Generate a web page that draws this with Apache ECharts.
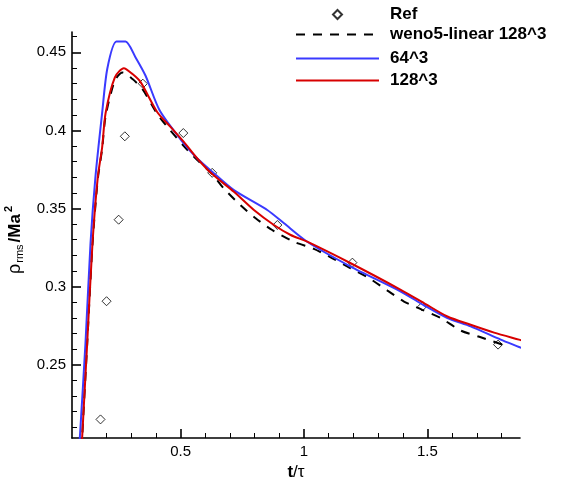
<!DOCTYPE html>
<html><head><meta charset="utf-8">
<script src="https://cdn.jsdelivr.net/npm/echarts@6/dist/echarts.min.js"></script>
<style>html,body{margin:0;padding:0;background:#fff}#c{width:574px;height:484px}</style>
</head><body><div id="c"></div>
<script>
// ---- data ----
const refT = [0.1755, 0.200, 0.249, 0.274, 0.347, 0.511, 0.628, 0.892, 1.196, 1.479, 1.786];
const refV = [0.2149, 0.2906, 0.3428, 0.3962, 0.4299, 0.3983, 0.3728, 0.3394, 0.3153, 0.2872, 0.2628];

const wenoT = [0.095, 0.101, 0.1216, 0.143, 0.1646, 0.182, 0.196, 0.2337, 0.265, 0.304, 0.345, 0.405, 0.4525, 0.513, 0.5675, 0.628, 0.675, 0.743, 0.804, 0.871, 0.959, 1.040, 1.115, 1.189, 1.263, 1.338, 1.405, 1.479, 1.554, 1.635, 1.716, 1.804];
const wenoV = [0.185, 0.203, 0.2635, 0.327, 0.369, 0.388, 0.409, 0.432, 0.437, 0.433, 0.4266, 0.4106, 0.4011, 0.390, 0.381, 0.372, 0.3628, 0.352, 0.3437, 0.3362, 0.3287, 0.3241, 0.3181, 0.3117, 0.3054, 0.2974, 0.2904, 0.2851, 0.2798, 0.2718, 0.2675, 0.2628];

const g64T = [0.085, 0.0917, 0.1147, 0.135, 0.155, 0.182, 0.203, 0.240, 0.277, 0.317, 0.358, 0.416, 0.513, 0.5675, 0.628, 0.716, 0.851, 0.919, 1.013, 1.189, 1.392, 1.486, 1.581, 1.675, 1.797, 1.871, 1.88];
const g64V = [0.185, 0.203, 0.2639, 0.3277, 0.3702, 0.411, 0.4395, 0.4569, 0.4569, 0.4469, 0.435, 0.4125, 0.3916, 0.382, 0.3735, 0.3617, 0.349, 0.3405, 0.3287, 0.3128, 0.2968, 0.2880, 0.2798, 0.2745, 0.266, 0.2613, 0.2607];

const g128T = [0.095, 0.101, 0.1216, 0.143, 0.1646, 0.182, 0.196, 0.2337, 0.270, 0.304, 0.338, 0.405, 0.459, 0.513, 0.5675, 0.628, 0.716, 0.797, 0.878, 0.946, 1.013, 1.189, 1.392, 1.486, 1.581, 1.675, 1.77, 1.871, 1.88];
const g128V = [0.185, 0.203, 0.2639, 0.3277, 0.3702, 0.389, 0.411, 0.434, 0.4398, 0.4362, 0.4309, 0.4118, 0.4022, 0.3926, 0.382, 0.372, 0.3607, 0.349, 0.3394, 0.333, 0.3287, 0.3149, 0.2979, 0.2894, 0.2808, 0.2755, 0.2705, 0.266, 0.2656];

const xMajor = [0.5, 1, 1.5];
const xMinor = [0.1, 0.2, 0.3, 0.4, 0.6, 0.7, 0.8, 0.9, 1.1, 1.2, 1.3, 1.4, 1.6, 1.7, 1.8];
const yMajor = [0.25, 0.3, 0.35, 0.4, 0.45];
const yMinor = [0.21, 0.22, 0.23, 0.24, 0.26, 0.27, 0.28, 0.29, 0.31, 0.32, 0.33, 0.34, 0.36, 0.37, 0.38, 0.39, 0.41, 0.42, 0.43, 0.44, 0.46];

const names = ['Ref', 'weno5-linear 128^3', '64^3', '128^3'];
// ----------------------------------------

const pairs = (t, v) => t.map((x, i) => [x, v[i]]);
const FONT = "'Liberation Sans', Arial, Helvetica, sans-serif";
const X_MIN = 0.06, X_MAX = 1.875, Y_MIN = 0.203, Y_MAX = 0.463;

const chart = echarts.init(document.getElementById('c'), null, {renderer: 'canvas'});

function xAx(major) {
  return {
    type: 'value', min: X_MIN, max: X_MAX, position: 'bottom', gridIndex: 0,
    splitLine: {show: false},
    axisLine: {show: major, onZero: false, lineStyle: {color: '#000', width: 1.6}},
    axisTick: {show: true, inside: true, length: major ? 9 : 5, customValues: major ? xMajor : xMinor,
      lineStyle: {color: '#000', width: major ? 1.6 : 1}},
    axisLabel: {show: major, customValues: xMajor, color: '#000', fontSize: 15, fontFamily: FONT, margin: 6},
    name: major ? '{b|t}{n|/τ}' : '', nameLocation: 'middle', nameGap: 19,
    nameTextStyle: {rich: {
      b: {fontWeight: 'bold', fontSize: 17, fontFamily: FONT, color: '#000'},
      n: {fontSize: 17, fontFamily: FONT, color: '#000'}
    }}
  };
}
function yAx(major) {
  return {
    type: 'value', min: Y_MIN, max: Y_MAX, position: 'left', gridIndex: 0,
    splitLine: {show: false},
    axisLine: {show: major, onZero: false, lineStyle: {color: '#000', width: 1.6}},
    axisTick: {show: true, inside: true, length: major ? 9 : 5, customValues: major ? yMajor : yMinor,
      lineStyle: {color: '#000', width: major ? 1.6 : 1}},
    axisLabel: {show: major, customValues: yMajor, color: '#000', fontSize: 15, fontFamily: FONT, margin: 6},
    name: major ? '{r|ρ}{s|rms}{b|/Ma}{p|2}' : '', nameLocation: 'middle', nameRotate: 90, nameGap: 40,
    nameTextStyle: {rich: {
      r: {fontSize: 18, fontFamily: FONT, color: '#000', lineHeight: 22},
      s: {fontSize: 11, fontFamily: FONT, color: '#000', lineHeight: 12, verticalAlign: 'bottom', padding: [0, 2, 0, 1]},
      b: {fontSize: 17, fontWeight: 'bold', fontFamily: FONT, color: '#000', lineHeight: 22},
      p: {fontSize: 11, fontWeight: 'bold', fontFamily: FONT, color: '#000', lineHeight: 12, verticalAlign: 'top', padding: [0, 10, 0, 2]}
    }}
  };
}

const legendText = {color: '#000', fontSize: 17, fontWeight: 'bold', fontFamily: FONT};
function lineLegend(name, top) {
  return {data: [name], left: 295, top: top, padding: 0, itemWidth: 83, itemHeight: 18,
    itemStyle: {opacity: 0}, textStyle: Object.assign({padding: [0, 0, 0, 6]}, legendText), selectedMode: false};
}

chart.setOption({
  animation: false,
  backgroundColor: '#fff',
  grid: {left: 72, right: 54, top: 32, bottom: 46, containLabel: false, outerBoundsMode: 'none'},
  xAxis: [xAx(true), xAx(false)],
  yAxis: [yAx(true), yAx(false)],
  legend: [
    {data: [names[0]], left: 332, top: 6, padding: 0, itemWidth: 9, itemHeight: 9,
      textStyle: Object.assign({padding: [0, 0, 0, 43]}, legendText), selectedMode: false},
    lineLegend(names[1], 26),
    lineLegend(names[2], 50),
    lineLegend(names[3], 72)
  ],
  series: [
    {name: names[0], type: 'scatter', data: pairs(refT, refV), symbol: 'diamond', symbolSize: 9,
      itemStyle: {color: 'rgba(0,0,0,0)', borderColor: '#000', borderWidth: 1}, z: 2},
    {name: names[1], type: 'line', data: pairs(wenoT, wenoV), symbol: 'none', smooth: 0.25,
      lineStyle: {color: '#000', width: 2, type: [9, 8]}, itemStyle: {color: '#000'}, z: 3},
    {name: names[2], type: 'line', data: pairs(g64T, g64V), symbol: 'none', smooth: 0.25,
      lineStyle: {color: '#3a3aff', width: 2}, itemStyle: {color: '#3a3aff'}, z: 4},
    {name: names[3], type: 'line', data: pairs(g128T, g128V), symbol: 'none', smooth: 0.25,
      lineStyle: {color: '#d80000', width: 2}, itemStyle: {color: '#d80000'}, z: 5}
  ]
});
</script>
</body></html>
